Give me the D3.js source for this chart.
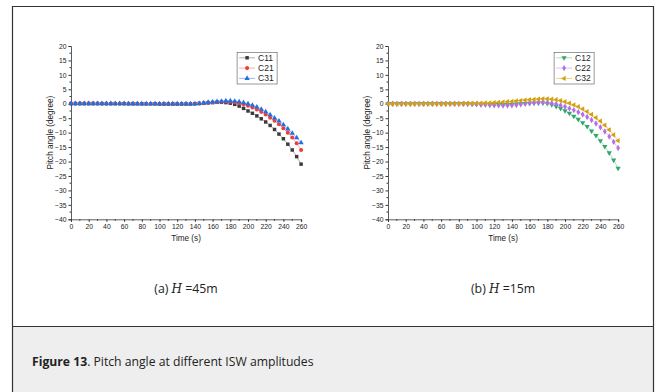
<!DOCTYPE html>
<html lang="en">
<head>
<meta charset="utf-8">
<script src="https://cdnjs.cloudflare.com/ajax/libs/d3/7.8.5/d3.min.js"></script>
<style>
  body { margin: 0; background: #fff; }
  svg text { font-family: "Liberation Sans", Arial, sans-serif; }
</style>
</head>
<body>
<svg id="fig" width="656" height="392"></svg>
<script>
// time (s), one sample every 5 s
var times = [0,5,10,15,20,25,30,35,40,45,50,55,60,65,70,75,80,85,90,95,
  100,105,110,115,120,125,130,135,140,145,150,155,160,165,170,175,180,185,190,195,
  200,205,210,215,220,225,230,235,240,245,250,255,260];

// panel (a) H = 45 m
var c11 = [0,0,0,0,0,0,0,0,0,0,0,0,0,0,0,0,0,0,0,0,
  -0.1,-0.1,-0.1,-0.1,-0.1,-0.1,-0.1,-0.1,0,0.1,0.2,0.3,0.4,0.5,0.5,0.4,0.2,-0.2,-0.8,-1.6,
  -2.5,-3.3,-4.2,-5.2,-6.3,-7.5,-8.9,-10.5,-12.1,-14.0,-16.0,-18.3,-20.9];
var c21 = [0.2,0.2,0.2,0.2,0.2,0.2,0.2,0.1,0.1,0.1,0.1,0.1,0.1,0.1,0.1,0.1,0,0,0,0,
  0,0,0,0,0,0,0,0,0,0.1,0.2,0.4,0.5,0.6,0.7,0.8,0.7,0.5,0.2,-0.2,
  -0.7,-1.3,-2.0,-2.8,-3.7,-4.8,-5.9,-7.1,-8.5,-10.0,-11.7,-13.7,-16.0];
var c31 = [0.1,0.1,0.1,0.1,0.1,0.1,0.1,0.1,0.1,0.1,0.1,0.1,0.1,0,0,0,0,0,0,0,
  0,0,0,0,0,0,0,0,0,0.1,0.3,0.5,0.6,0.8,0.9,1.0,1.0,0.9,0.7,0.4,
  0,-0.5,-1.1,-1.9,-2.8,-3.8,-4.9,-6.0,-7.3,-8.7,-10.2,-11.8,-13.5];

// panel (b) H = 15 m
var c12 = [0,0,0,0,0,0,0,0,0,0,0,0,0,0,0,0,0,0,0,-0.1,
  -0.1,-0.2,-0.2,-0.3,-0.3,-0.3,-0.3,-0.3,-0.2,-0.1,0,0.1,0.2,0.3,0.3,0.3,0.1,-0.3,-0.9,-1.6,
  -2.4,-3.3,-4.3,-5.4,-6.6,-7.9,-9.4,-11.0,-12.8,-14.8,-17.0,-19.5,-22.3];
var c22 = [0,0,0,0,0,0,0,0,0,0,0,0,0,0,0,0,0,0,-0.1,-0.1,
  -0.2,-0.3,-0.3,-0.4,-0.5,-0.5,-0.6,-0.6,-0.5,-0.4,-0.2,0,0.2,0.3,0.4,0.5,0.4,0.2,-0.1,-0.5,
  -1.0,-1.6,-2.2,-2.9,-3.7,-4.6,-5.6,-6.8,-8.1,-9.6,-11.3,-13.2,-15.3];
var c32 = [0,0,0,0,0,0,0,0,0,0,0,0,0,0,0,0,0,0.1,0.1,0.1,
  0.2,0.2,0.3,0.3,0.4,0.5,0.6,0.7,0.8,1.0,1.1,1.3,1.4,1.5,1.6,1.7,1.7,1.6,1.4,1.1,
  0.7,0.2,-0.4,-1.0,-1.8,-2.7,-3.7,-4.8,-6.0,-7.4,-9.0,-10.8,-12.8];

var xTicks = [0,20,40,60,80,100,120,140,160,180,200,220,240,260];
var yTicks = [20,15,10,5,0,-5,-10,-15,-20,-25,-30,-35,-40];

var panels = [
  { left: 71, label: "(a)", amp: "45m",
    series: [
      { name: "C11", values: c11, color: "#3a3a3a", line: "#9a9a9a", symbol: d3.symbolSquare, rot: 0 },
      { name: "C21", values: c21, color: "#f03c3c", line: "#f59a9a", symbol: d3.symbolCircle, rot: 0 },
      { name: "C31", values: c31, color: "#2070e0", line: "#7aaaf0", symbol: d3.symbolTriangle, rot: 0 }
    ] },
  { left: 388, label: "(b)", amp: "15m",
    series: [
      { name: "C12", values: c12, color: "#2fa86a", line: "#8fd8b0", symbol: d3.symbolTriangle, rot: 180 },
      { name: "C22", values: c22, color: "#b46ee6", line: "#d6b0f2", symbol: d3.symbolDiamond, rot: 0 },
      { name: "C32", values: c32, color: "#d4a010", line: "#e8c860", symbol: d3.symbolTriangle, rot: -90 }
    ] }
];

var svg = d3.select("#fig");

// frame and caption band
svg.append("rect").attr("x", 12.5).attr("y", 326).attr("width", 641).attr("height", 70)
  .attr("fill", "#eeeeee");
svg.append("path").attr("d", "M12.5,400V6.5H653.5V400").attr("fill", "none")
  .attr("stroke", "#333").attr("stroke-width", 1.2);
svg.append("line").attr("x1", 12.5).attr("x2", 653.5).attr("y1", 326.5).attr("y2", 326.5)
  .attr("stroke", "#333").attr("stroke-width", 1.2);

var plotTop = 46, plotBottom = 219.3;

function symSize(s) { return s.symbol === d3.symbolCircle ? 13 : 12; }

panels.forEach(function(p) {
  var x = d3.scaleLinear().domain([0, 260]).range([p.left, p.left + 230.1]);
  var y = d3.scaleLinear().domain([-40, 20]).range([plotBottom, plotTop]);
  var g = svg.append("g");

  // axes
  var xAxis = d3.axisBottom(x).tickValues(xTicks).tickSize(2.5).tickPadding(2);
  var gx = g.append("g").attr("transform", "translate(0," + plotBottom + ")").call(xAxis);
  gx.selectAll("line.minor").data(d3.range(10, 260, 20)).enter().append("line")
    .attr("class", "minor")
    .attr("x1", function(d) { return x(d); }).attr("x2", function(d) { return x(d); })
    .attr("y1", 0).attr("y2", 1.5).attr("stroke", "#333");
  var yAxis = d3.axisLeft(y).tickValues(yTicks).tickSize(2.5).tickPadding(2);
  var gy = g.append("g").attr("transform", "translate(" + p.left + ",0)").call(yAxis);
  gy.selectAll("line.minor").data(d3.range(-37.5, 20, 5)).enter().append("line")
    .attr("class", "minor")
    .attr("y1", function(d) { return y(d); }).attr("y2", function(d) { return y(d); })
    .attr("x1", 0).attr("x2", -1.5).attr("stroke", "#333");
  [gx, gy].forEach(function(a) {
    a.select(".domain").attr("stroke", "#333").attr("stroke-width", 0.8);
    a.selectAll(".tick line").attr("stroke", "#333");
    a.selectAll("text").attr("font-size", 6.8).attr("fill", "#222")
      .style("font-family", "'Liberation Sans', Arial, sans-serif");
  });

  g.append("text").attr("x", (x(0) + x(260)) / 2).attr("y", 241)
    .attr("text-anchor", "middle").attr("font-size", 8.2).attr("fill", "#222").text("Time (s)");
  g.append("text").attr("transform", "translate(" + (p.left - 18.5) + "," + y(-10) + ") rotate(-90)")
    .attr("text-anchor", "middle").attr("font-size", 8.2).attr("fill", "#222")
    .text("Pitch angle (degree)");

  // series
  var line = d3.line().x(function(d, i) { return x(times[i]); }).y(function(d) { return y(d); });
  p.series.forEach(function(s) {
    g.append("path").datum(s.values).attr("d", line).attr("fill", "none")
      .attr("stroke", s.line).attr("stroke-width", 0.8);
    var sym = d3.symbol().type(s.symbol).size(symSize(s));
    g.selectAll(null).data(s.values).enter().append("path")
      .attr("d", sym)
      .attr("transform", function(d, i) {
        return "translate(" + x(times[i]) + "," + y(d) + ") rotate(" + s.rot + ")";
      })
      .attr("fill", s.color);
  });

  // legend
  var lx = x(260) - 64, ly = 52.5;
  var lg = g.append("g").attr("transform", "translate(" + lx + "," + ly + ")");
  lg.append("rect").attr("width", 40).attr("height", 31.5).attr("fill", "#fff")
    .attr("stroke", "#555").attr("stroke-width", 0.6);
  p.series.forEach(function(s, i) {
    var yy = 5.3 + i * 10.3;
    lg.append("line").attr("x1", 2).attr("x2", 18).attr("y1", yy).attr("y2", yy)
      .attr("stroke", s.line).attr("stroke-width", 0.8);
    lg.append("path").attr("d", d3.symbol().type(s.symbol).size(symSize(s)))
      .attr("transform", "translate(10," + yy + ") rotate(" + s.rot + ")").attr("fill", s.color);
    lg.append("text").attr("x", 21).attr("y", yy + 3).attr("font-size", 8.5).attr("fill", "#222")
      .text(s.name);
  });

  // panel label
  var lab = svg.append("text").attr("x", (x(0) + x(260)) / 2).attr("y", 293)
    .attr("text-anchor", "middle").attr("font-size", 12.3).attr("fill", "#222")
    .style("font-family", "'Open Sans', 'Noto Sans', sans-serif");
  lab.append("tspan").text(p.label + " ");
  lab.append("tspan").attr("font-style", "italic").style("font-family", "'DejaVu Serif', serif")
    .attr("font-size", 12).text("H");
  lab.append("tspan").text(" =" + p.amp);
});

var cap = svg.append("text").attr("x", 32).attr("y", 366).attr("font-size", 12.2).attr("fill", "#222")
  .style("font-family", "'Open Sans', 'Noto Sans', sans-serif");
cap.append("tspan").attr("font-weight", "bold").text("Figure 13");
cap.append("tspan").text(". Pitch angle at different ISW amplitudes");
</script>
</body>
</html>
